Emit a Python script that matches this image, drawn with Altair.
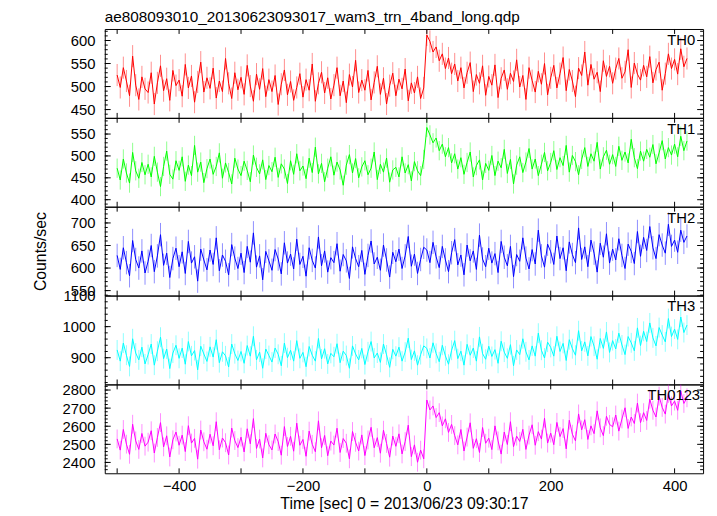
import altair as alt
import pandas as pd

TITLE = "ae808093010_20130623093017_wam3_trn_4band_long.qdp"
X_TITLE = "Time [sec] 0 = 2013/06/23 09:30:17"
Y_TITLE = "Counts/sec"

# bin centres (5 s bins)
TIME = list(range(-500, 421, 5))

TH0 = [525, 498, 541, 512, 480, 566, 503, 472, 521, 495,
       487, 530, 462, 508, 545, 491, 517, 470, 535, 502,
       514, 479, 548, 497, 523, 466, 510, 553, 488, 519,
       496, 540, 475, 512, 489, 561, 507, 474, 530, 493,
       520, 483, 546, 501, 468, 527, 494, 539, 478, 515,
       489, 524, 461, 505, 536, 482, 511, 470, 498, 528,
       477, 515, 492, 549, 468, 507, 531, 486, 519, 473,
       503, 541, 480, 512, 465, 526, 499, 557, 487, 514,
       492, 535, 471, 509, 544, 483, 518, 462, 502, 529,
       480, 516, 495, 538, 469, 508, 486, 521, 474, 497,
       612, 598, 575, 586, 556, 571, 539, 562, 528, 549,
       512, 541, 497, 530, 552, 489, 526, 507, 545, 481,
       522, 503, 547, 476, 518, 536, 494, 529, 511, 558,
       499, 524, 472, 541, 513, 488, 533, 505, 550, 482,
       519, 546, 497, 528, 563, 491, 537, 512, 478, 540,
       524, 575, 503, 548, 516, 531, 489, 556, 522, 544,
       507, 539, 561, 518, 532, 580, 498, 551, 527, 514,
       546, 521, 565, 508, 537, 553, 492, 528, 571, 539,
       559, 527, 582, 543, 561]

TH1 = [472, 445, 493, 461, 438, 508, 466, 449, 485, 457,
       481, 452, 499, 463, 430, 476, 511, 458, 447, 489,
       467, 498, 442, 479, 455, 524, 463, 486, 439, 471,
       493, 458, 476, 507, 449, 484, 462, 436, 495, 470,
       455, 488, 467, 441, 502, 474, 459, 491, 446, 478,
       464, 497, 451, 482, 470, 437, 489, 458, 505, 466,
       477, 448, 495, 462, 520, 459, 483, 441, 472, 498,
       456, 486, 468, 433, 479, 503, 461, 494, 450, 475,
       489, 457, 472, 509, 446, 481, 463, 495, 440, 468,
       474, 452, 498, 461, 480, 443, 487, 466, 455, 492,
       565, 548, 530, 541, 512, 527, 498, 519, 484, 505,
       470, 496, 458, 485, 509, 452, 478, 491, 445, 483,
       467, 501, 455, 488, 473, 515, 460, 492, 436, 479,
       498, 462, 486, 517, 470, 493, 455, 481, 508, 466,
       485, 512, 469, 496, 478, 524, 463, 501, 487, 457,
       492, 519, 476, 505, 488, 531, 470, 498, 513, 481,
       503, 476, 522, 490, 509, 484, 538, 496, 471, 511,
       488, 515, 497, 526, 482, 507, 535, 493, 519, 502,
       527, 498, 545, 512, 534]

TH2 = [628, 597, 645, 612, 583, 661, 619, 600, 638, 589,
       615, 650, 592, 627, 674, 606, 633, 579, 621, 644,
       603, 636, 588, 659, 611, 625, 571, 642, 618, 596,
       640, 608, 667, 594, 629, 615, 585, 652, 622, 599,
       633, 590, 648, 613, 678, 602, 627, 574, 637, 616,
       595, 641, 620, 587, 656, 611, 631, 598, 664, 608,
       626, 582, 645, 617, 600, 669, 605, 638, 591, 623,
       612, 654, 593, 630, 616, 577, 647, 621, 603, 639,
       586, 628, 660, 609, 624, 595, 651, 618, 580, 635,
       614, 642, 599, 627, 670, 604, 631, 588, 619, 646,
       640, 612, 657, 625, 601, 648, 618, 592, 634, 663,
       607, 629, 585, 651, 616, 638, 597, 673, 620, 603,
       644, 611, 632, 590, 659, 624, 605, 648, 581, 630,
       615, 667, 622, 598, 641, 609, 684, 627, 602, 653,
       636, 608, 671, 621, 645, 594, 658, 630, 612, 689,
       619, 647, 603, 662, 633, 591, 655, 624, 676, 611,
       642, 618, 665, 628, 599, 653, 637, 610, 681, 626,
       668, 639, 692, 645, 621, 674, 651, 633, 697, 648,
       662, 635, 684, 657, 671]

TH3 = [925, 889, 947, 908, 872, 961, 915, 893, 934, 880,
       910, 944, 876, 921, 966, 897, 928, 865, 915, 940,
       898, 931, 879, 952, 906, 923, 861, 937, 912, 888,
       935, 902, 958, 884, 919, 906, 870, 944, 913, 891,
       920, 882, 939, 905, 969, 893, 918, 866, 928, 907,
       886, 931, 911, 874, 947, 900, 924, 889, 955, 898,
       917, 871, 936, 908, 889, 962, 896, 929, 880, 914,
       903, 945, 884, 921, 907, 866, 938, 912, 893, 930,
       878, 919, 952, 899, 915, 885, 944, 909, 869, 927,
       905, 934, 889, 918, 963, 894, 922, 876, 910, 938,
       930, 899, 948, 914, 887, 940, 906, 879, 924, 955,
       897, 921, 876, 943, 908, 931, 889, 967, 913, 895,
       937, 904, 926, 882, 953, 918, 898, 942, 874, 925,
       910, 961, 919, 893, 938, 905, 979, 924, 899, 950,
       933, 905, 969, 920, 946, 891, 958, 929, 908, 987,
       922, 951, 906, 968, 937, 895, 962, 930, 983, 917,
       955, 928, 979, 941, 910, 968, 948, 922, 996, 939,
       985, 952, 1012, 964, 938, 997, 973, 951, 1026, 968,
       992, 959, 1031, 981, 1005]

TH0123 = [2530, 2468, 2582, 2501, 2445, 2611, 2519, 2472, 2560, 2490,
          2512, 2575, 2452, 2538, 2620, 2486, 2547, 2430, 2525, 2568,
          2495, 2551, 2460, 2603, 2507, 2533, 2418, 2579, 2514, 2473,
          2556, 2492, 2625, 2470, 2535, 2509, 2441, 2590, 2521, 2482,
          2540, 2458, 2586, 2503, 2642, 2477, 2529, 2425, 2561, 2498,
          2469, 2557, 2515, 2440, 2598, 2488, 2544, 2462, 2617, 2495,
          2527, 2434, 2573, 2500, 2459, 2630, 2481, 2549, 2437, 2518,
          2496, 2589, 2455, 2532, 2506, 2420, 2571, 2511, 2463, 2552,
          2438, 2524, 2594, 2481, 2537, 2451, 2578, 2505, 2429, 2546,
          2489, 2558, 2447, 2515, 2606, 2432, 2497, 2401, 2468, 2420,
          2745, 2690, 2712, 2648, 2675, 2602, 2641, 2566, 2610, 2548,
          2497, 2582, 2463, 2540, 2619, 2478, 2531, 2455, 2593, 2506,
          2534, 2471, 2602, 2519, 2446, 2568, 2499, 2625, 2487, 2545,
          2516, 2583, 2472, 2551, 2608, 2495, 2570, 2529, 2644, 2507,
          2562, 2498, 2621, 2543, 2587, 2475, 2633, 2556, 2519, 2668,
          2580, 2636, 2527, 2602, 2559, 2685, 2591, 2548, 2655, 2610,
          2597, 2662, 2573, 2640, 2702, 2588, 2651, 2615, 2728, 2620,
          2675, 2632, 2749, 2688, 2651, 2766, 2704, 2667, 2781, 2712,
          2739, 2688, 2795, 2726, 2757]

PANEL_NAMES = ["TH0", "TH1", "TH2", "TH3", "TH0123"]
SERIES = [TH0, TH1, TH2, TH3, TH0123]
# typical 1-sigma error bar of one bin, per panel
ERRORS = [24, 22, 26, 32, 52]
COLORS = ["#ff0000", "#00ff00", "#0000ff", "#00ffff", "#ff00ff"]
Y_DOMAINS = [[432, 625], [384, 587], [539, 736], [814, 1100], [2340, 2831]]
Y_MAJOR = [[450, 500, 550, 600], [400, 450, 500, 550], [550, 600, 650, 700],
           [900, 1000, 1100], [2400, 2500, 2600, 2700, 2800]]
Y_MINOR = [list(range(440, 621, 10)), list(range(390, 581, 10)),
           list(range(540, 731, 10)), list(range(820, 1100, 20)),
           list(range(2360, 2821, 20))]
X_MAJOR = [-500, -400, -300, -200, -100, 0, 100, 200, 300, 400]
X_LABELS = [-400, -200, 0, 200, 400]
X_DOMAIN = [-520, 446]
LABEL_RIGHT = [8, 8, 8, 8, 3]

W, H = 606, 90
FONT = "Liberation Sans"


def panel(i):
    df = pd.DataFrame({"t": TIME, "v": SERIES[i]})
    df["lo"] = df["v"] - ERRORS[i]
    df["hi"] = df["v"] + ERRORS[i]
    yscale = alt.Scale(domain=Y_DOMAINS[i], nice=False, zero=False)
    xscale = alt.Scale(domain=X_DOMAIN, nice=False, zero=False)
    yaxis = alt.Axis(values=Y_MAJOR[i], title=Y_TITLE if i == 2 else None,
                     labelPadding=10, titlePadding=22, ticks=False, tickSize=0,
                     domain=False, grid=False, format="d")
    if i == 4:
        xaxis = alt.Axis(values=X_LABELS, title=X_TITLE, labelPadding=5,
                         titlePadding=3, ticks=False, tickSize=0, domain=False,
                         grid=False, labelFlush=False, format="d")
    else:
        xaxis = None
    X = alt.X("t:Q", scale=xscale, axis=xaxis)
    Y = alt.Y("v:Q", scale=yscale, axis=yaxis)

    errbar = alt.Chart(df).mark_rule(color=COLORS[i], strokeWidth=1, opacity=0.45,
                                     clip=True).encode(
        x=X, y=alt.Y("lo:Q", scale=yscale, axis=yaxis), y2="hi:Q")
    line = alt.Chart(df).mark_line(color=COLORS[i], strokeWidth=1, clip=True).encode(x=X, y=Y)

    xt = pd.DataFrame({"t": X_MAJOR})
    ymaj = pd.DataFrame({"v": Y_MAJOR[i]})
    ymin = pd.DataFrame({"v": Y_MINOR[i]})
    rule = dict(color="black", strokeWidth=1)
    xt_top = alt.Chart(xt).mark_rule(**rule).encode(x=X, y=alt.value(0), y2=alt.value(5))
    xt_bot = alt.Chart(xt).mark_rule(**rule).encode(x=X, y=alt.value(H), y2=alt.value(H - 5))
    ymaj_l = alt.Chart(ymaj).mark_rule(**rule, clip=True).encode(y=Y, x=alt.value(0), x2=alt.value(6))
    ymaj_r = alt.Chart(ymaj).mark_rule(**rule, clip=True).encode(y=Y, x=alt.value(W), x2=alt.value(W - 6))
    ymin_l = alt.Chart(ymin).mark_rule(**rule).encode(y=Y, x=alt.value(0), x2=alt.value(3))
    ymin_r = alt.Chart(ymin).mark_rule(**rule).encode(y=Y, x=alt.value(W), x2=alt.value(W - 3))

    lab = alt.Chart(pd.DataFrame({"label": [PANEL_NAMES[i]]})).mark_text(
        align="right", baseline="alphabetic", font=FONT, fontSize=15, color="black"
    ).encode(x=alt.value(W - LABEL_RIGHT[i]), y=alt.value(16), text="label:N")

    layers = [line, errbar, xt_top, xt_bot, ymaj_l, ymaj_r, ymin_l, ymin_r, lab]
    props = dict(width=W, height=H)
    if i == 0:
        props["title"] = alt.TitleParams(TITLE, anchor="start", frame="group", offset=3)
    return alt.layer(*layers).properties(**props)


chart = alt.vconcat(*[panel(i) for i in range(5)], spacing=0, bounds="flush").properties(
    padding={"left": 24, "top": -2, "right": 5, "bottom": 0}
).configure_view(
    stroke="black", strokeWidth=1
).configure_axis(
    labelFont=FONT, labelFontSize=15, labelColor="black",
    titleFont=FONT, titleFontSize=16, titleFontWeight="normal", titleColor="black"
).configure_title(
    font=FONT, fontSize=15.5, fontWeight="normal", color="black"
)

chart.save("out.html", embed_options={"renderer": "svg", "actions": False})
